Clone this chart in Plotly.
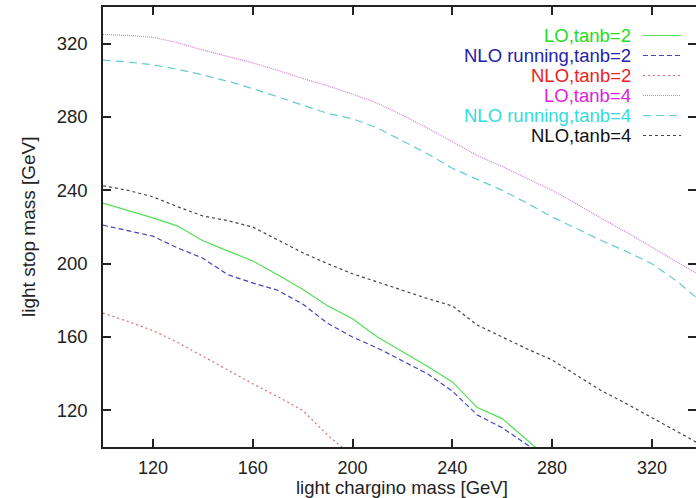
import plotly.graph_objects as go

# Light chargino mass grid [GeV]
mass_grid = [100, 110, 120, 130, 140, 150, 160, 170, 180, 190, 200, 210, 220,
             230, 240, 250, 260, 270, 280, 290, 300, 310, 320, 330, 340]
mass_grid_tb2 = mass_grid[:19]       # 100 .. 280
mass_grid_nlo_tb2 = mass_grid[:11]   # 100 .. 200

# Light stop mass bounds [GeV]
lo_tanb2 = [233, 229, 225, 220.5, 212.5, 207, 201.5, 194, 186, 177, 170, 160,
            152, 144, 135.5, 121.5, 115.5, 103.5, 92]
nlo_running_tanb2 = [221, 218, 215, 208.5, 203, 194, 189.5, 185.5, 178, 167.5,
                     160, 154, 147, 140, 130.5, 117.5, 110.5, 101, 92]
nlo_tanb2 = [173, 168.5, 163.5, 157, 149.5, 142, 134.5, 127.5, 120, 106.5, 95]
lo_tanb4 = [325, 324.5, 323.5, 320.5, 316.5, 313, 309.5, 305.5, 301, 297, 292.5,
            287.5, 281, 274, 266.5, 259, 253, 246.5, 240, 232.5, 224.5, 217,
            209, 201, 193]
nlo_running_tanb4 = [311, 310, 308.5, 306, 303, 299.5, 295.5, 291, 286.5, 282,
                     279, 274, 267, 260, 252, 246, 240, 233, 225.5, 219, 212.5,
                     206.5, 200, 190.5, 179]
nlo_tanb4 = [242.5, 240, 236.5, 231, 226, 223.5, 220, 213, 206, 200, 194.5, 190,
             185.5, 181, 177, 166.5, 160, 153.5, 147.5, 139, 130.5, 123.5, 116,
             108.5, 101]

tick_vals = [120, 160, 200, 240, 280, 320]

series = [
    ("LO,tanb=2", mass_grid_tb2, lo_tanb2, "#22dd22", "#55dd55", "solid"),
    ("NLO running,tanb=2", mass_grid_tb2, nlo_running_tanb2, "#2222aa", "#4444bb", "5px,3px"),
    ("NLO,tanb=2", mass_grid_nlo_tb2, nlo_tanb2, "#ee2222", "#e06a6a", "2px,3px"),
    ("LO,tanb=4", mass_grid, lo_tanb4, "#dd22dd", "#d080d0", "1px,1px"),
    ("NLO running,tanb=4", mass_grid, nlo_running_tanb4, "#33dddd", "#66cccc", "8px,5px"),
    ("NLO,tanb=4", mass_grid, nlo_tanb4, "#111111", "#444444", "3px,3px"),
]

W, H = 696, 498
ML, MT, MB = 103, 7, 51
PW, PH = W - ML, H - MT - MB
X0 = 100
PX_PER_GEV = 2.495
x_max = X0 + PW / PX_PER_GEV

FONT = "Liberation Sans, Arial, sans-serif"
AXIS = "#222222"

fig = go.Figure()
for name, xs, ys, _, line_col, dash in series:
    fig.add_trace(go.Scatter(x=xs, y=ys, mode="lines", name=name,
                             line=dict(color=line_col, width=1.2, dash=dash),
                             showlegend=False, hoverinfo="skip"))

# helper trace so the right-hand tick axis is drawn
fig.add_trace(go.Scatter(x=[X0], y=[100], yaxis="y2", mode="lines",
                         showlegend=False, hoverinfo="skip",
                         line=dict(width=0)))

annotations = []
shapes = []
# key: right-aligned coloured labels with line samples to their right
row_top = 35.5
row_step = 20
text_right = 633
sample_x0, sample_x1 = 643, 681
for i, (name, _, _, text_col, line_col, dash) in enumerate(series):
    py = row_top + i * row_step
    yp = (MT + PH - py) / PH
    annotations.append(dict(
        text=name, xref="paper", yref="paper",
        x=(text_right - ML) / PW, y=yp, xanchor="right", yanchor="middle",
        showarrow=False, font=dict(family=FONT, size=18.5, color=text_col)))
    shapes.append(dict(
        type="line", xref="paper", yref="paper",
        x0=(sample_x0 - ML) / PW, x1=(sample_x1 - ML) / PW, y0=yp, y1=yp,
        line=dict(color=line_col, width=1.2, dash=dash)))

# axis titles
annotations.append(dict(
    text="light chargino mass [GeV]", xref="x", yref="paper", x=220, y=0,
    xanchor="center", yanchor="middle", yshift=-40.5, showarrow=False,
    font=dict(family=FONT, size=18.5, color="#222222")))
annotations.append(dict(
    text="light stop mass [GeV]", xref="paper", yref="paper", x=0, y=0.5,
    xanchor="center", yanchor="middle", xshift=28 - ML, textangle=-90,
    showarrow=False, font=dict(family=FONT, size=19, color="#222222")))

fig.update_layout(
    width=W, height=H,
    margin=dict(l=ML, r=0, t=MT, b=MB, pad=0),
    paper_bgcolor="white", plot_bgcolor="white",
    font=dict(family=FONT, size=18.5, color="#222222"),
    xaxis=dict(range=[X0, x_max], tickvals=tick_vals, ticks="inside",
               ticklen=8, tickwidth=1.5, tickcolor=AXIS, showline=True,
               linecolor=AXIS, linewidth=1.5, mirror="ticks", showgrid=False,
               zeroline=False, ticklabelstandoff=4,
               tickfont=dict(family=FONT, size=18)),
    yaxis=dict(range=[100, 340], tickvals=tick_vals, ticks="inside",
               ticklen=8, tickwidth=1.5, tickcolor=AXIS, showline=True,
               linecolor=AXIS, linewidth=1.5, mirror=False, showgrid=False,
               zeroline=False, ticklabelstandoff=10),
    yaxis2=dict(range=[100, 340], tickvals=tick_vals, ticks="inside",
                ticklen=8, tickwidth=1.5, tickcolor=AXIS, showline=False,
                overlaying="y", side="right", showticklabels=False,
                showgrid=False, zeroline=False),
    annotations=annotations,
    shapes=shapes,
)

fig.write_html("out.html")
